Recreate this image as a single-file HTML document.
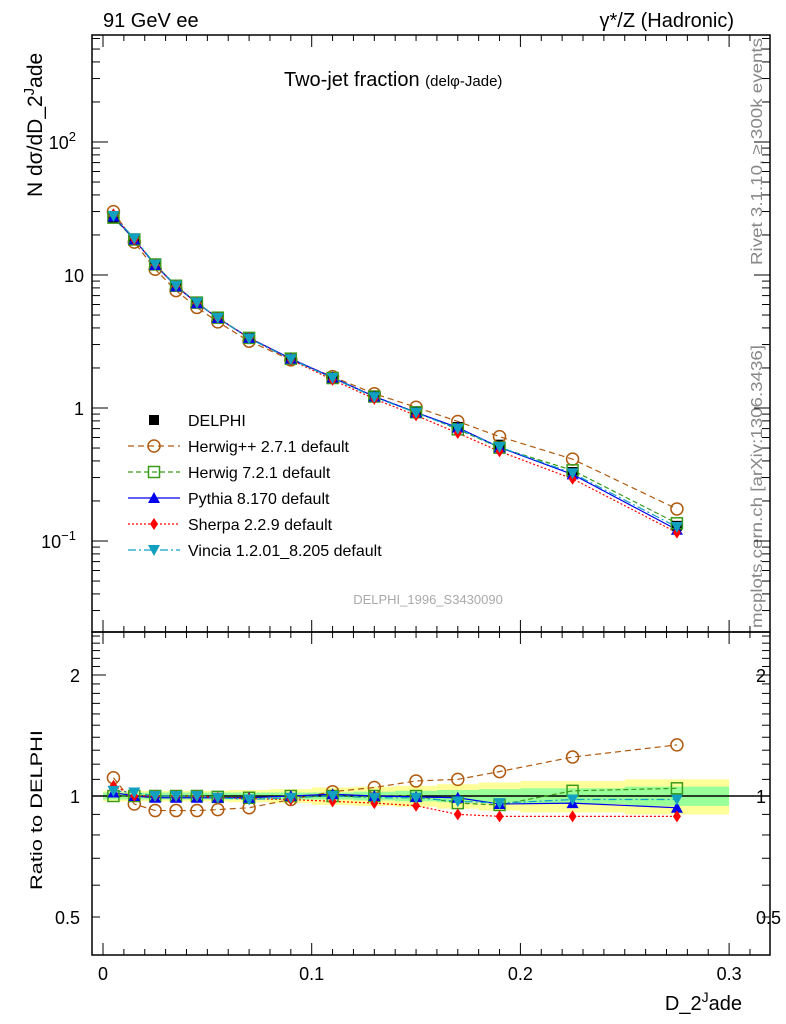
<!DOCTYPE html>
<html><head><meta charset="utf-8">
<style>
html,body{margin:0;padding:0;background:#fff;}
svg{display:block;font-family:"Liberation Sans",sans-serif;}
</style></head>
<body>
<svg id="chart" width="786" height="1024" viewBox="0 0 786 1024">
<text x="103" y="27" font-size="20">91 GeV ee</text>
<text x="734" y="27" font-size="20" text-anchor="end">γ*/Z (Hadronic)</text>
<text x="284" y="86" font-size="20">Two-jet fraction <tspan font-size="15">(delφ-Jade)</tspan></text>
<text x="428" y="604" font-size="13" fill="#aaa" text-anchor="middle">DELPHI_1996_S3430090</text>
<text transform="translate(762,265) rotate(-90)" font-size="15.5" fill="#888" textLength="227" lengthAdjust="spacingAndGlyphs">Rivet 3.1.10, ≥ 300k events</text>
<text transform="translate(762,628) rotate(-90)" font-size="15.5" fill="#888" textLength="283" lengthAdjust="spacingAndGlyphs">mcplots.cern.ch [arXiv:1306.3436]</text>
<text transform="translate(42,197) rotate(-90)" font-size="21">N dσ/dD_2<tspan dy="-8" font-size="15">J</tspan><tspan dy="8">ade</tspan></text>
<text transform="translate(42,810) rotate(-90)" font-size="17" text-anchor="middle" textLength="160" lengthAdjust="spacingAndGlyphs">Ratio to DELPHI</text>
<text x="742" y="1010" font-size="20" text-anchor="end">D_2<tspan dy="-8" font-size="14">J</tspan><tspan dy="8">ade</tspan></text>
<g id="g"></g>
</svg>
<script>
const xs=[0.005,0.015,0.025,0.035,0.045,0.055,0.07,0.09,0.11,0.13,0.15,0.17,0.19,0.225,0.275];
const binLo=[0,0.01,0.02,0.03,0.04,0.05,0.06,0.08,0.1,0.12,0.14,0.16,0.18,0.2,0.25];
const binHi=[0.01,0.02,0.03,0.04,0.05,0.06,0.08,0.1,0.12,0.14,0.16,0.18,0.2,0.25,0.3];
const delphi=[27,18.5,12,8.3,6.2,4.8,3.4,2.35,1.68,1.22,0.93,0.72,0.53,0.33,0.13];
const greenErr=[0.02,0.02,0.02,0.02,0.02,0.02,0.02,0.02,0.02,0.025,0.03,0.035,0.04,0.045,0.055];
const yellowErr=[0.03,0.03,0.03,0.03,0.03,0.03,0.035,0.04,0.05,0.055,0.06,0.07,0.08,0.09,0.1];
const rHerwigpp=[1.11,0.955,0.92,0.92,0.92,0.925,0.935,0.98,1.025,1.05,1.09,1.10,1.15,1.25,1.34];
const rHerwig7=[1.0,1.0,1.0,1.0,1.0,0.995,0.99,1.0,1.0,1.0,1.0,0.96,0.95,1.03,1.045];
const rPythia=[1.02,1.0,0.99,0.99,0.99,0.99,0.99,1.0,1.01,1.0,0.995,0.99,0.955,0.96,0.935];
const rSherpa=[1.06,1.0,1.0,1.0,1.0,0.99,0.985,0.98,0.97,0.96,0.946,0.9,0.89,0.89,0.89];
const rVincia=[1.03,1.02,1.0,1.0,1.0,0.99,0.98,0.99,1.0,0.99,0.99,0.97,0.96,0.98,0.98];
const xTicks=[0,0.1,0.2,0.3];
const yTicks=[0.1,1,10,100];
const rTicks=[0.5,1,2];

const NS="http://www.w3.org/2000/svg";
const g=document.getElementById('g');
const L=92,R=770,T=35,MB=632,RB=955;
const X=v=>103+v*2087;
const Y=v=>408-Math.log10(v)*133;
const RY=v=>796-Math.log10(v)*402;
function el(t,a,name,p){const e=document.createElementNS(NS,t);for(const k in a)e.setAttribute(k,a[k]);


(p||g).appendChild(e);return e;}

for(let i=0;i<xs.length;i++){
 el('rect',{x:X(binLo[i]),width:X(binHi[i])-X(binLo[i]),y:RY(1+yellowErr[i]),height:RY(1-yellowErr[i])-RY(1+yellowErr[i]),fill:'#ffff99'},'ratio-band-yellow');
}
for(let i=0;i<xs.length;i++){
 el('rect',{x:X(binLo[i]),width:X(binHi[i])-X(binLo[i]),y:RY(1+greenErr[i]),height:RY(1-greenErr[i])-RY(1+greenErr[i]),fill:'#99ff99'},'ratio-band-green');
}
el('line',{x1:L,x2:R,y1:RY(1),y2:RY(1),stroke:'#000','stroke-width':1.5},'ratio-unity-line');

el('rect',{x:L,y:T,width:R-L,height:MB-T,fill:'none',stroke:'#000','stroke-width':1.5},'main-frame');
el('rect',{x:L,y:MB,width:R-L,height:RB-MB,fill:'none',stroke:'#000','stroke-width':1.5},'ratio-frame');

for(const t of xTicks){
 el('line',{x1:X(t),x2:X(t),y1:RB,y2:RB-12,stroke:'#000'},'x-major-tick');
 el('line',{x1:X(t),x2:X(t),y1:MB,y2:MB-12,stroke:'#000'},'x-major-tick');
 el('line',{x1:X(t),x2:X(t),y1:T,y2:T+12,stroke:'#000'},'x-major-tick');
 el('line',{x1:X(t),x2:X(t),y1:MB,y2:MB+12,stroke:'#000'},'x-major-tick');
 const tx=el('text',{x:X(t),y:980,'font-size':18,'text-anchor':'middle'},'x-tick-label');tx.textContent=t===0?'0':String(t);
}
for(let t=0.01;t<0.32;t+=0.01){if(Math.abs(t*10-Math.round(t*10))<1e-6)continue;
 for(const [a,b] of [[RB,RB-6],[MB,MB-6],[T,T+6],[MB,MB+6]]) el('line',{x1:X(t),x2:X(t),y1:a,y2:b,stroke:'#000'},'x-minor-tick');}

for(let e=-2;e<3;e++)for(let m=1;m<10;m++){const v=m*Math.pow(10,e);const y=Y(v);if(y<T||y>MB)continue;
 const len=m===1?16:8;
 el('line',{x1:L,x2:L+len,y1:y,y2:y,stroke:'#000'},'y-tick');
 el('line',{x1:R,x2:R-len,y1:y,y2:y,stroke:'#000'},'y-tick');}
const ylab=['10<tspan dy="-8" font-size="13">−1</tspan>','1','10','10<tspan dy="-8" font-size="13">2</tspan>'];
yTicks.forEach((t,i)=>{const tx=el('text',{x:(i===0||i===3)?76:84,y:Y(t)+7,'font-size':18,'text-anchor':'end'},'y-tick-label');tx.innerHTML=ylab[i];});

for(let k=5;k<=25;k++){const v=k/10;const y=RY(v);if(y<MB||y>RB)continue;const maj=(k===10||k===20);
 const len=maj?14:8;
 el('line',{x1:L,x2:L+len,y1:y,y2:y,stroke:'#000'},'ratio-tick');
 el('line',{x1:R,x2:R-len,y1:y,y2:y,stroke:'#000'},'ratio-tick');}
for(const t of rTicks){const y=RY(t)+7;
 const a=el('text',{x:80,y:y,'font-size':18,'text-anchor':'end'},'ratio-tick-label');a.textContent=String(t);
 const b=el('text',{x:756,y:y,'font-size':18},'ratio-tick-label-right');b.textContent=String(t);}

const series=[
 {name:'herwigpp',r:rHerwigpp,col:'#b05a10',dash:'6,4',mk:'circle',label:'Herwig++ 2.7.1 default'},
 {name:'herwig7',r:rHerwig7,col:'#3a9a1a',dash:'5,3',mk:'square',label:'Herwig 7.2.1 default'},
 {name:'pythia',r:rPythia,col:'#0000ee',dash:'',mk:'tri',label:'Pythia 8.170 default'},
 {name:'sherpa',r:rSherpa,col:'#ff0000',dash:'2,2',mk:'diamond',label:'Sherpa 2.2.9 default'},
 {name:'vincia',r:rVincia,col:'#11a0c0',dash:'8,3,2,3',mk:'tridown',label:'Vincia 1.2.01_8.205 default'}];
function marker(type,x,y,col,name){
 if(type==='circle')return el('circle',{cx:x,cy:y,r:6,fill:'none',stroke:col,'stroke-width':1.5},name);
 if(type==='square')return el('rect',{x:x-5.5,y:y-5.5,width:11,height:11,fill:'none',stroke:col,'stroke-width':1.5},name);
 if(type==='tri')return el('polygon',{points:`${x},${y-6} ${x-6},${y+5} ${x+6},${y+5}`,fill:col},name);
 if(type==='tridown')return el('polygon',{points:`${x},${y+6} ${x-6},${y-5} ${x+6},${y-5}`,fill:col},name);
 if(type==='diamond')return el('polygon',{points:`${x},${y-6} ${x-4},${y} ${x},${y+6} ${x+4},${y}`,fill:col},name);
 if(type==='sq')return el('rect',{x:x-5,y:y-5,width:10,height:10,fill:col},name);
}
for(const s of series){
 const mp=xs.map((x,i)=>X(x)+','+Y(delphi[i]*s.r[i])).join(' ');
 el('polyline',{points:mp,fill:'none',stroke:s.col,'stroke-width':1.2,'stroke-dasharray':s.dash},s.name+'-line');
 const rp=xs.map((x,i)=>X(x)+','+RY(s.r[i])).join(' ');
 el('polyline',{points:rp,fill:'none',stroke:s.col,'stroke-width':1.2,'stroke-dasharray':s.dash},s.name+'-ratio-line');
}
xs.forEach((x,i)=>marker('sq',X(x),Y(delphi[i]),'#000','delphi-point'));
for(const s of series){
 xs.forEach((x,i)=>{marker(s.mk,X(x),Y(delphi[i]*s.r[i]),s.col,s.name+'-point');
  marker(s.mk,X(x),RY(s.r[i]),s.col,s.name+'-ratio-point');});
}
let ly=420;
marker('sq',154,ly,'#000','legend-delphi-marker');
let t0=el('text',{x:188,y:ly+6,'font-size':16},'legend-delphi-label');t0.textContent='DELPHI';
series.forEach((s,i)=>{const y=ly+26*(i+1);
 el('line',{x1:128,x2:180,y1:y,y2:y,stroke:s.col,'stroke-width':1.2,'stroke-dasharray':s.dash},'legend-'+s.name+'-line');
 marker(s.mk,154,y,s.col,'legend-'+s.name+'-marker');
 const t=el('text',{x:188,y:y+6,'font-size':16},'legend-'+s.name+'-label');t.textContent=s.label;});
</script>
</body></html>
